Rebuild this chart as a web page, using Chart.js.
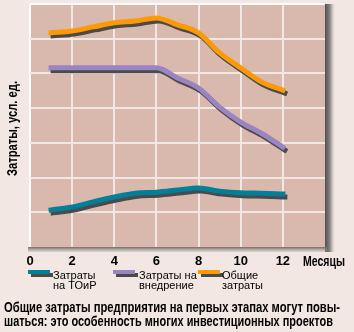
<!DOCTYPE html>
<html>
<head>
<meta charset="utf-8">
<script src="https://cdn.jsdelivr.net/npm/chart.js@4"></script>
<style>
  html, body { margin: 0; padding: 0; background: #f2e7e2; }
  body { width: 354px; height: 332px; position: relative; overflow: hidden;
         font-family: "Liberation Sans", Arial, sans-serif; color: #000; }
  #box { position: absolute; left: 0; top: 0; width: 354px; height: 268px; }
  .item { position: absolute; top: 270px; font-size: 11px; line-height: 10px; }
  .sw { position: absolute; top: 270px; width: 22px; height: 4px; box-shadow: 3px 3px 0 #4a4a4a; }
  .cond { position: absolute; font-weight: bold; font-size: 14px; line-height: 15px;
          white-space: nowrap; transform-origin: 0 0; }
  #ytitle { left: 5px; top: 176px; }
  #unit { left: 303px; top: 254px; }
  #note1 { left: 4px; top: 300px; }
  #note2 { left: 4px; top: 314px; }
</style>
</head>
<body>
<div id="box"><canvas id="c" width="354" height="268"></canvas></div>

<div class="cond" id="ytitle">Затраты, усл. ед.</div>
<div class="cond" id="unit">Месяцы</div>

<div class="sw" style="left:28px;background:#007f99"></div>
<div class="item" style="left:53px">Затраты<br>на ТОиР</div>
<div class="sw" style="left:113px;background:#9a85c1"></div>
<div class="item" style="left:139px">Затраты на<br>внедрение</div>
<div class="sw" style="left:198px;background:#ff9900"></div>
<div class="item" style="left:222px">Общие<br>затраты</div>

<div class="cond" id="note1">Общие затраты предприятия на первых этапах могут повы-</div>
<div class="cond" id="note2">шаться: это особенность многих инвестиционных проектов</div>

<script>
// Month numbers and cost series (conventional units)
const months = [1, 2, 3, 4, 5, 6, 7, 8, 9, 10, 11, 12];
const maintenanceCost = [1.07, 1.15, 1.30, 1.44, 1.55, 1.58, 1.64, 1.70, 1.61, 1.56, 1.55, 1.53];
const rolloutCost     = [5.16, 5.16, 5.16, 5.16, 5.16, 5.16, 4.87, 4.58, 4.03, 3.60, 3.27, 2.88];
const totalCost       = [6.17, 6.22, 6.34, 6.46, 6.51, 6.60, 6.40, 6.17, 5.59, 5.16, 4.75, 4.52];
const xTicks = [0, 2, 4, 6, 8, 10, 12];

// Squeeze bold text horizontally into a condensed look
function squeeze(id, width, rotate) {
  const el = document.getElementById(id);
  const k = width / el.getBoundingClientRect().width;
  el.style.transform = rotate ? 'rotate(-90deg) scaleX(' + k + ')' : 'scaleX(' + k + ')';
}
squeeze('ytitle', 95, true);
squeeze('unit', 42);
squeeze('note1', 336);
squeeze('note2', 329);

const pts = vals => months.map((m, i) => ({ x: m, y: vals[i] }));

// Plot panel: drop shadow, fill
const panel = {
  id: 'panel',
  beforeDraw(chart) {
    const { ctx, chartArea: a } = chart;
    ctx.save();
    const g = ctx.createLinearGradient(a.right, 0, a.right + 10, 0);
    g.addColorStop(0, '#4f4f4f');
    g.addColorStop(0.5, '#8a8683');
    g.addColorStop(1, 'rgba(200,192,188,0)');
    ctx.fillStyle = g;
    ctx.fillRect(a.right, a.top, 10, a.bottom - a.top + 5);
    const gb = ctx.createLinearGradient(0, a.bottom, 0, a.bottom + 5);
    gb.addColorStop(0, '#6e6a68');
    gb.addColorStop(1, 'rgba(170,165,160,0.3)');
    ctx.fillStyle = gb;
    ctx.fillRect(a.left - 2, a.bottom, a.right - a.left + 4, 5);
    ctx.fillStyle = '#d9b9ad';
    ctx.fillRect(a.left, a.top, a.right - a.left, a.bottom - a.top);
    ctx.restore();
  }
};

// Offset dark shadow under each line
const lineShadow = {
  id: 'lineShadow',
  beforeDatasetDraw(chart) {
    const ctx = chart.ctx;
    ctx.save();
    ctx.shadowColor = '#4a4a4a';
    ctx.shadowOffsetX = 2;
    ctx.shadowOffsetY = 3;
    ctx.shadowBlur = 0;
  },
  afterDatasetDraw(chart) {
    chart.ctx.restore();
  }
};

const lineStyle = {
  borderWidth: 5,
  pointRadius: 0,
  cubicInterpolationMode: 'monotone',
  borderCapStyle: 'square',
  fill: false
};

new Chart(document.getElementById('c'), {
  type: 'line',
  data: {
    datasets: [
      { label: 'Общие затраты', data: pts(totalCost), borderColor: '#ff9900', ...lineStyle },
      { label: 'Затраты на внедрение', data: pts(rolloutCost), borderColor: '#9a85c1', ...lineStyle },
      { label: 'Затраты на ТОиР', data: pts(maintenanceCost), borderColor: '#007f99', ...lineStyle }
    ]
  },
  options: {
    responsive: false,
    animation: false,
    layout: { padding: { top: 4, right: 29, left: 0, bottom: 0 } },
    plugins: { legend: { display: false }, tooltip: { enabled: false } },
    scales: {
      x: {
        type: 'linear', min: 0, max: 14,
        afterBuildTicks(s) { s.ticks = xTicks.concat([14]).map(v => ({ value: v })); },
        afterFit(s) { s.height = 21; },
        ticks: {
          autoSkip: false, maxRotation: 0, padding: 7, color: '#000',
          font: { family: '"Liberation Sans", Arial, sans-serif', size: 13, weight: 'bold' },
          callback: v => (v === 14 ? '' : String(v))
        },
        grid: {
          drawTicks: false, lineWidth: 2,
          color: c => (c.tick && c.tick.value === 0 ? '#ffffff' : c.tick && c.tick.value === 14 ? 'rgba(0,0,0,0)' : '#f2e8e3')
        },
        border: { display: false }
      },
      y: {
        min: 0, max: 7,
        ticks: { display: false, stepSize: 1 },
        grid: {
          drawTicks: false, lineWidth: 2,
          color: c => (c.tick && c.tick.value === 7 ? '#ffffff' : c.tick && c.tick.value === 0 ? 'rgba(0,0,0,0)' : '#f2e8e3')
        },
        border: { display: false },
        afterFit(s) { s.width = 30; }
      }
    }
  },
  plugins: [panel, lineShadow]
});
</script>
</body>
</html>
